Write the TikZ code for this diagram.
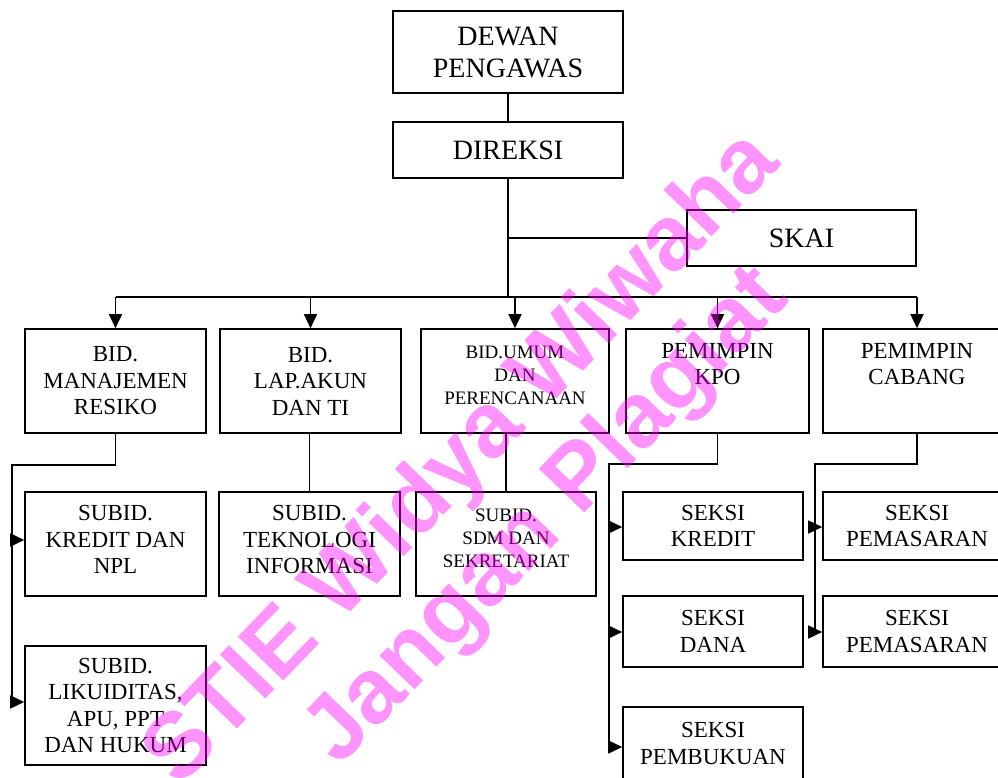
\documentclass[tikz,border=0pt]{standalone}
\usepackage{fontspec}
\setmainfont{Liberation Serif}
\newfontfamily\wmfont{Liberation Sans}
\usetikzlibrary{arrows.meta}
\definecolor{wmpink}{rgb}{1,0,1}
\begin{document}
\begin{tikzpicture}[x=1pt,y=-1pt,
  box/.style={draw,line width=1.6pt,inner sep=0pt,align=center,anchor=center},
  bigtxt/.style={font=\fontsize{28}{32}\selectfont},
  midtxt/.style={font=\fontsize{23}{26.5}\selectfont},
  smalltxt/.style={font=\fontsize{19}{23}\selectfont},
  conn/.style={line width=1.6pt},
  arr/.style={line width=1.6pt,-{Triangle[length=14pt,width=13pt]}},
  wm/.style={text=wmpink,opacity=0.42,font=\wmfont\bfseries\fontsize{92}{92}\selectfont,rotate=46,inner sep=0pt}
]
\useasboundingbox (0,0) rectangle (998,778);
\clip (0,0) rectangle (998,778);
% top
\node[box,bigtxt,minimum width=230pt,minimum height=82pt] (dewan) at (508,52) {DEWAN\\PENGAWAS};
\node[box,bigtxt,minimum width=230pt,minimum height=56pt] (direksi) at (508,150) {DIREKSI};
\node[box,bigtxt,minimum width=229pt,minimum height=56pt] (skai) at (801.5,238) {SKAI};
% row 1
\node[box,midtxt,minimum width=181pt,minimum height=104pt] (b1) at (115.5,381) {BID.\\MANAJEMEN\\RESIKO};
\node[box,midtxt,minimum width=181pt,minimum height=104pt] (b2) at (310.5,381) {BID.\\LAP.AKUN\\DAN TI};
\node[box,smalltxt,minimum width=188pt,minimum height=104pt] (b3) at (515,381) {BID.UMUM\\DAN\\PERENCANAAN\\[-11pt]\mbox{}};
\node[box,midtxt,minimum width=183pt,minimum height=104pt] (b4) at (717.5,381) {PEMIMPIN\\KPO\\\strut};
\node[box,midtxt,minimum width=188pt,minimum height=104pt] (b5) at (917,381) {PEMIMPIN\\CABANG\\\strut};
% row 2
\node[box,midtxt,minimum width=181pt,minimum height=104pt] (s1) at (115.5,544) {SUBID.\\KREDIT DAN\\NPL\\[-18pt]\mbox{}};
\node[box,midtxt,minimum width=181pt,minimum height=104pt] (s2) at (309.5,544) {SUBID.\\TEKNOLOGI\\INFORMASI\\[-18pt]\mbox{}};
\node[box,midtxt,minimum width=181pt,minimum height=119pt] (s3) at (115.5,705.5) {SUBID.\\LIKUIDITAS,\\APU, PPT\\DAN HUKUM};
\node[box,smalltxt,minimum width=180pt,minimum height=104pt] (s4) at (506,544) {SUBID.\\SDM DAN\\SEKRETARIAT\\[-11pt]\mbox{}};
\node[box,midtxt,minimum width=180pt,minimum height=68pt] (k1) at (713,526) {SEKSI\\KREDIT};
\node[box,midtxt,minimum width=180pt,minimum height=71pt] (k2) at (713,631.5) {SEKSI\\DANA};
\node[box,midtxt,minimum width=180pt,minimum height=73pt] (k3) at (713,743.5) {SEKSI\\PEMBUKUAN};
\node[box,midtxt,minimum width=188pt,minimum height=68pt] (p1) at (917,526) {SEKSI\\PEMASARAN};
\node[box,midtxt,minimum width=188pt,minimum height=71pt] (p2) at (917,631.5) {SEKSI\\PEMASARAN};
% coordinates
\coordinate (bus) at (508,297);
\coordinate (sk) at (508,238);
\coordinate (l1) at (12,465);
\coordinate (l2) at (609,464);
\coordinate (l3) at (815,464);
% top connectors
\draw[conn] (dewan.south) -- (direksi.north);
\draw[conn] (direksi.south) -- (bus);
\draw[conn] (sk) -- (skai.west);
\draw[conn] (b1.north |- bus) -- (b5.north |- bus);
\foreach \b in {b1,b2,b3,b4,b5} \draw[arr] (\b.north |- bus) -- (\b.north);
% left branch
\draw[conn] (b1.south) -- (b1.south |- l1) -- (l1) -- (12,703);
\draw[arr] (12,540) -- (s1.west |- 0,540);
\draw[arr] (12,702) -- (s3.west |- 0,702);
% middle branches
\draw[conn] (s2.north |- b2.south) -- (s2.north);
\draw[conn] (s4.north |- b3.south) -- (s4.north);
% KPO branch
\draw[conn] (b4.south) -- (b4.south |- l2) -- (l2) -- (609,748);
\draw[arr] (609,527) -- (k1.west |- 0,527);
\draw[arr] (609,632) -- (k2.west |- 0,632);
\draw[arr] (609,747) -- (k3.west |- 0,747);
% Cabang branch
\draw[conn] (b5.south) -- (b5.south |- l3) -- (l3) -- (815,633);
\draw[arr] (815,527) -- (p1.west |- 0,527);
\draw[arr] (815,632) -- (p2.west |- 0,632);
% watermark
\node[wm] (wm1) at (464,460) {STIE Widya Wiwaha};
\node[wm] (wm2) at (548,518) {Jangan Plagiat};
\end{tikzpicture}
\end{document}
